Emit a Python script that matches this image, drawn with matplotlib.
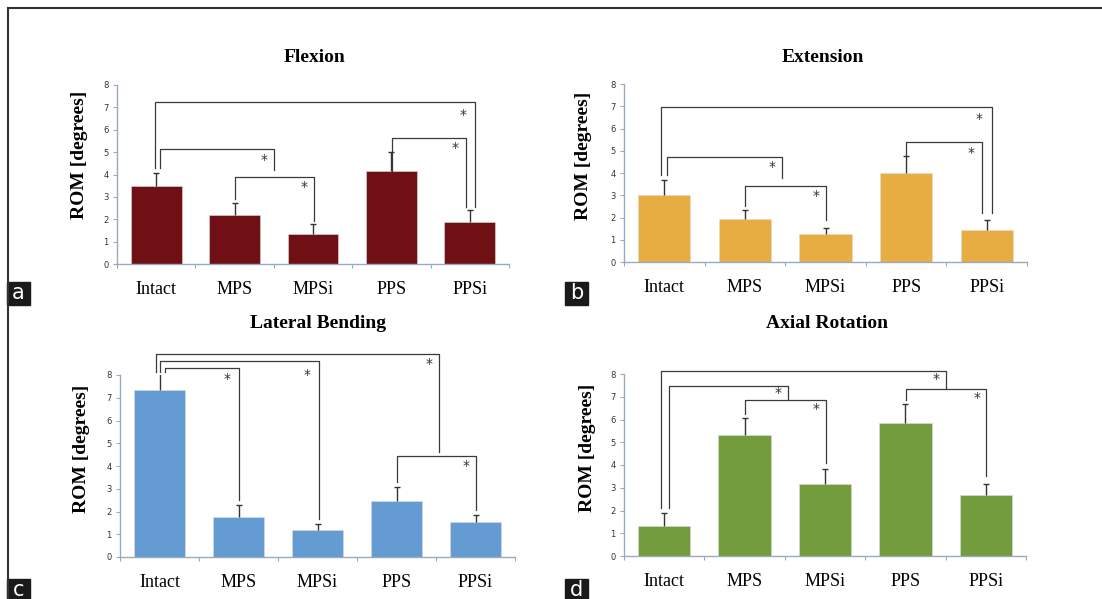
import matplotlib
matplotlib.use("Agg")
import matplotlib.pyplot as plt
from matplotlib.patches import Rectangle
from matplotlib.lines import Line2D

W, H = 1102, 599

groups = ["Intact", "MPS", "MPSi", "PPS", "PPSi"]

flexion_mean = [3.50, 2.20, 1.34, 4.17, 1.87]
flexion_err = [0.58, 0.52, 0.43, 0.83, 0.56]

extension_mean = [3.00, 1.94, 1.26, 3.98, 1.45]
extension_err = [0.68, 0.38, 0.29, 0.77, 0.46]

lateral_mean = [7.33, 1.74, 1.20, 2.46, 1.54]
lateral_err = [0.82, 0.56, 0.25, 0.62, 0.32]

axial_mean = [1.32, 5.30, 3.15, 5.86, 2.67]
axial_err = [0.57, 0.78, 0.66, 0.84, 0.51]

# significance brackets: (x left, y left end, y top, x right, y right end, star x, star y)
flexion_br = [
    (-0.02, 4.29, 7.23, 4.06, 2.55, 3.92, 6.68),
    (0.05, 4.29, 5.16, 1.50, 4.19, 1.38, 4.66),
    (1.01, 2.90, 3.87, 2.01, 1.90, 1.88, 3.43),
    (3.01, 4.17, 5.65, 3.95, 2.55, 3.81, 5.19),
]
extension_br = [
    (-0.04, 3.89, 6.97, 4.06, 2.20, 3.90, 6.43),
    (0.03, 3.89, 4.74, 1.46, 3.77, 1.34, 4.26),
    (1.00, 2.50, 3.42, 2.00, 1.87, 1.88, 2.97),
    (3.00, 4.77, 5.38, 3.94, 2.20, 3.80, 4.89),
]
lateral_br = [
    (-0.04, 8.15, 8.94, 3.54, 4.62, 3.41, 8.50),
    (0.01, 8.15, 8.63, 2.02, 1.68, 1.87, 7.99),
    (0.07, 8.15, 8.31, 1.01, 2.52, 0.86, 7.84),
    (3.01, 3.30, 4.45, 4.00, 2.05, 3.88, 3.99),
]
axial_br = [
    (-0.04, 2.12, 8.15, 3.51, 7.40, 3.38, 7.80),
    (0.06, 2.12, 7.47, 1.54, 6.89, 1.41, 7.16),
    (1.00, 6.26, 6.87, 2.01, 4.10, 1.89, 6.45),
    (3.01, 6.84, 7.34, 4.00, 3.52, 3.89, 6.95),
]

serif = "Liberation Serif"
axis_col = "#9aaabd"

fig = plt.figure(figsize=(W / 100, H / 100), dpi=100)


def fx(px):
    return px / W


def fy(py):
    return 1 - py / H


def panel(box, title, tpos, ypos, mean, err, br, color, letter, lpos):
    x0, x1, ytop, ybot = box
    ax = fig.add_axes([fx(x0), fy(ybot), (x1 - x0) / W, (ybot - ytop) / H])
    xs = list(range(len(groups)))
    tops = [m + e for m, e in zip(mean, err)]
    ax.bar(xs, mean, width=0.65, color=color, edgecolor="#dddddd", linewidth=0.4, zorder=2)
    # one-sided error bars, cap only at the top
    ax.vlines(xs, mean, tops, color="#333333", lw=1, zorder=3)
    ax.plot(xs, tops, ls="none", marker="_", ms=5, mew=1, color="#333333", zorder=3)
    for xl, yl, yt, xr, yr, sx, sy in br:
        ax.plot([xl, xl, xr, xr], [yl, yt, yt, yr], color="#3a3a3a", lw=0.9,
                clip_on=False, zorder=4)
        ax.text(sx, sy, "*", ha="center", va="center", fontsize=10,
                color="#333333", clip_on=False)
    ax.set_xlim(-0.5, 4.5)
    ax.set_ylim(0, 8)
    ax.set_yticks(range(9))
    ax.set_xticks([i + 0.5 for i in range(-1, 5)])
    ax.set_xticklabels([])
    ax.set_xticks(xs, minor=True)
    ax.set_xticklabels(groups, minor=True, fontfamily=serif, fontsize=13)
    ax.tick_params(axis="x", which="minor", length=0, pad=12)
    ax.tick_params(axis="x", which="major", length=3, color=axis_col, width=0.8)
    ax.tick_params(axis="y", length=3, color=axis_col, width=0.8, labelsize=6,
                   labelcolor="#333333", pad=3)
    for s in ["top", "right"]:
        ax.spines[s].set_visible(False)
    for s in ["left", "bottom"]:
        ax.spines[s].set_color(axis_col)
        ax.spines[s].set_linewidth(1)
    fig.text(fx(tpos[0]), fy(tpos[1]), title, ha="center", va="center",
             fontfamily=serif, fontweight="bold", fontsize=14)
    fig.text(fx(ypos[0]), fy(ypos[1]), "ROM [degrees]", ha="center", va="center",
             rotation=90, fontfamily=serif, fontweight="bold", fontsize=14)
    lx, ly = lpos
    fig.patches.append(Rectangle((fx(lx), fy(ly + 23)), 23 / W, 23 / H,
                                 transform=fig.transFigure, color="#1a1a1a"))
    fig.text(fx(lx + 11.5), fy(ly + 11), letter, ha="center", va="center",
             color="white", fontsize=15, fontfamily="DejaVu Sans")
    return ax


panel((117, 509, 85, 264), "Flexion", (315, 57), (79, 155),
      flexion_mean, flexion_err, flexion_br, "#701014", "a", (7, 282))
panel((624, 1027, 84, 262), "Extension", (823, 58), (583, 156),
      extension_mean, extension_err, extension_br, "#e8ad42", "b", (565, 282))
panel((120, 515, 375, 557), "Lateral Bending", (318, 323), (81, 449),
      lateral_mean, lateral_err, lateral_br, "#639bd2", "c", (7, 579))
panel((624, 1026, 374, 556), "Axial Rotation", (827, 323), (588, 448),
      axial_mean, axial_err, axial_br, "#739c3d", "d", (565, 579))

# outer frame
fig.lines.append(Line2D([fx(8), 1], [fy(8), fy(8)], transform=fig.transFigure,
                        color="#333333", lw=1.5))
fig.lines.append(Line2D([fx(8), fx(8)], [fy(8), 0], transform=fig.transFigure,
                        color="#333333", lw=1.5))

fig.savefig("out.png", dpi=100)
